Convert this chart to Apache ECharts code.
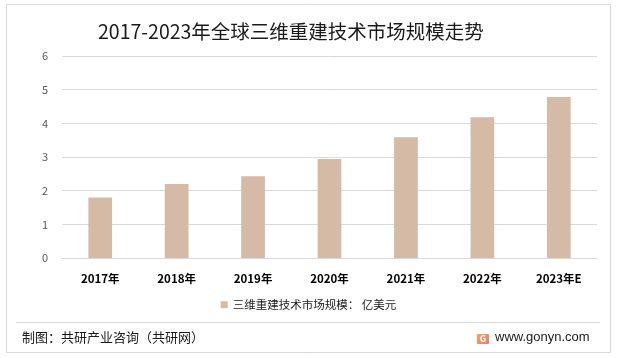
<!DOCTYPE html>
<html><head><meta charset="utf-8">
<script src="https://cdn.jsdelivr.net/npm/echarts@6/dist/echarts.min.js"></script>
<style>html,body{margin:0;padding:0;background:#fff}#c{width:617px;height:358px}</style>
</head><body><div id="c"></div>
<script>
const categories = ['2017年','2018年','2019年','2020年','2021年','2022年','2023年E'];
const marketSize = [1.8, 2.2, 2.43, 2.94, 3.59, 4.18, 4.78];
const seriesName = '三维重建技术市场规模： 亿美元';
const titleText = '2017-2023年全球三维重建技术市场规模走势';
const sourceText = '制图：共研产业咨询（共研网）';
const siteText = 'www.gonyn.com';

const chart = echarts.init(document.getElementById('c'));
const font = '"Noto Sans CJK SC","Noto Sans",sans-serif';
chart.setOption({
  animation:false,
  title:{text:titleText,left:93,top:17,textStyle:{fontFamily:font,fontSize:19.5,fontWeight:'normal',color:'#1a1a1a'}},
  grid:{left:62,right:20,top:56,bottom:100,containLabel:false},
  legend:{top:294,left:'center',itemWidth:7,itemHeight:7,icon:'rect',itemGap:3,
    textStyle:{fontFamily:font,fontSize:11.5,color:'#1a1a1a'}},
  xAxis:{type:'category',data:categories,
    axisLine:{lineStyle:{color:'#d9d9d9'}},axisTick:{show:false},
    axisLabel:{fontFamily:font,fontSize:11.5,fontWeight:'bold',color:'#000',margin:15}},
  yAxis:{type:'value',min:0,max:6,interval:1,
    axisLine:{show:false},axisTick:{show:false},
    splitLine:{lineStyle:{color:'#d9d9d9'}},
    axisLabel:{fontFamily:font,fontSize:11,color:'#595959',margin:14}},
  series:[{name:seriesName,type:'bar',data:marketSize,barWidth:'31%',itemStyle:{color:'#D5BAA5'}}],
  graphic:[
    {type:'rect',shape:{x:6.5,y:4.5,width:604,height:348},style:{fill:'none',stroke:'#d9d9d9',lineWidth:1},silent:true,z:-1},
    {type:'line',shape:{x1:16,y1:322.5,x2:600,y2:322.5},style:{stroke:'#d9d9d9',lineWidth:1}},
    {type:'text',left:22,top:331,style:{text:sourceText,fontFamily:font,fontSize:13,fill:'#1a1a1a'}},
    {type:'rect',shape:{x:477,y:334,width:12,height:10,r:1},style:{fill:new echarts.graphic.LinearGradient(0,0,1,1,[{offset:0,color:'#f6a35a'},{offset:1,color:'#f27a6e'}])}},
    {type:'text',x:483,y:339,style:{text:'G',fontFamily:font,fontSize:9,fontWeight:'bold',fill:'#fff',align:'center',verticalAlign:'middle'}},
    {type:'text',left:495,top:331,style:{text:siteText,fontFamily:'"Liberation Sans",Arial,sans-serif',fontSize:13,fill:'#1a1a1a'}}
  ]
});
</script></body></html>
